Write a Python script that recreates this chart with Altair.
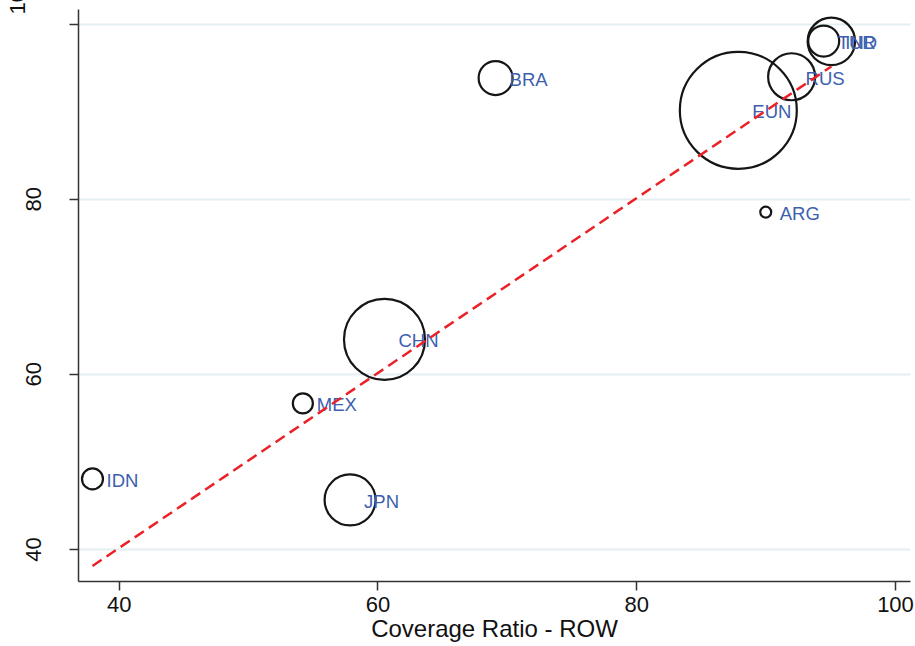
import altair as alt
import pandas as pd

# Country codes, coverage ratios and bubble weights
countries = ["IDN", "MEX", "JPN", "CHN", "BRA", "EUN", "ARG", "RUS", "TUR", "IND"]
coverage_row = [37.97, 54.23, 57.88, 60.54, 69.13, 87.89, 90.01, 92.01, 94.49, 95.08]
coverage_y = [48.0, 56.63, 45.6, 63.94, 93.79, 90.11, 78.48, 93.94, 98.02, 97.98]
weights = [110, 100, 650, 1640, 289, 3420, 30, 552, 240, 562]

# Fitted line end points
fit_x = [37.97, 95.08]
fit_y = [38.06, 95.12]

x_ticks = [40, 60, 80, 100]
y_ticks = [40, 60, 80, 100]

df = pd.DataFrame({"country": countries, "x": coverage_row, "y": coverage_y, "w": weights})
fit = pd.DataFrame({"x": fit_x, "y": fit_y})

FONT = "Liberation Sans, Arial, sans-serif"
xscale = alt.Scale(domain=[36.85, 101.16], nice=False, zero=False)
yscale = alt.Scale(domain=[36.34, 101.68], nice=False, zero=False)

xenc = alt.X("x:Q", scale=xscale,
             axis=alt.Axis(values=x_ticks, title="Coverage Ratio - ROW", grid=False,
                           labelFontSize=22, titleFontSize=24, titleFontWeight="normal",
                           labelPadding=4, titlePadding=2, tickSize=9,
                           domainColor="#333333", tickColor="#333333", domainWidth=1.5,
                           tickWidth=1.5, labelColor="#111111", titleColor="#111111",
                           labelFont=FONT, titleFont=FONT, labelFlush=False))
yenc = alt.Y("y:Q", scale=yscale,
             axis=alt.Axis(values=y_ticks, title=None, grid=True, gridColor="#e4eff1",
                           gridWidth=2, labelFontSize=22, labelAngle=270,
                           labelAlign="center", labelBaseline="bottom",
                           labelPadding={"condition": {"test": "datum.value == 100", "value": 40},
                                         "value": 24},
                           labelOffset={"condition": {"test": "datum.value == 100", "value": -28},
                                        "value": 0},
                           tickSize=9, domainColor="#333333", tickColor="#333333",
                           domainWidth=1.5, tickWidth=1.5, labelColor="#111111",
                           labelFont=FONT, labelFlush=False))

points = alt.Chart(df).mark_point(shape="circle", filled=False, color="#151515",
                                  strokeWidth=2.2, opacity=1).encode(
    x=xenc, y=yenc,
    size=alt.Size("w:Q", scale=alt.Scale(type="linear", domain=[0, 3420],
                                         range=[0, 13680]), legend=None),
)

labels = alt.Chart(df).mark_text(align="left", baseline="middle", dx=14, dy=2,
                                 fontSize=18.5, color="#3d5fae", font=FONT).encode(
    x=alt.X("x:Q", scale=xscale), y=alt.Y("y:Q", scale=yscale), text="country:N"
)

line = alt.Chart(fit).mark_line(color="#ec2027", strokeWidth=2.5,
                                strokeDash=[11, 6]).encode(
    x=alt.X("x:Q", scale=xscale), y=alt.Y("y:Q", scale=yscale)
)

chart = alt.layer(points, labels, line).properties(
    width=832, height=572,
    autosize=alt.AutoSizeParams(type="none"),
    padding={"left": 78, "top": 9, "right": 5, "bottom": 65},
    background="white",
).configure_view(stroke=None)

chart.save("out.html", embed_options={"renderer": "svg", "actions": False})
